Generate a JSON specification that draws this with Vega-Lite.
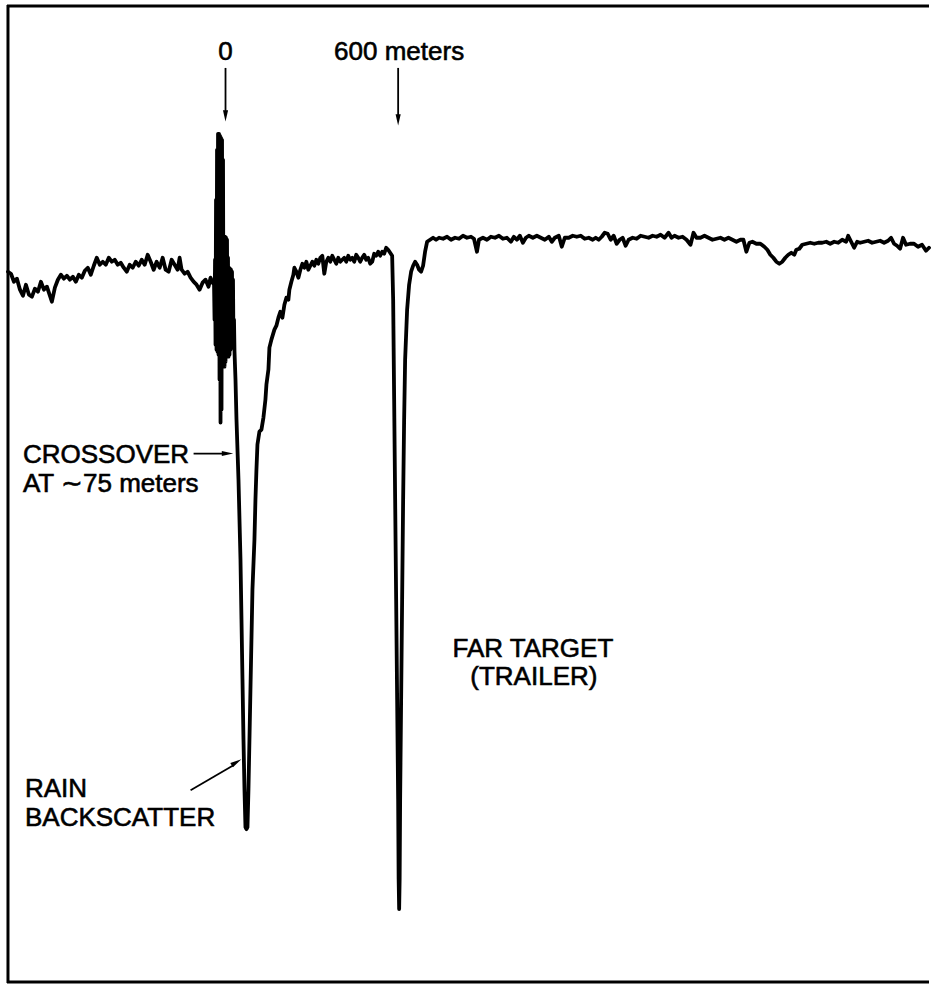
{
  "$schema": "https://vega.github.io/schema/vega-lite/v6.json",
  "width": 931,
  "height": 985,
  "autosize": {"type": "fit", "contains": "padding"},
  "padding": 0,
  "background": "white",
  "view": {"stroke": null, "fill": null},
  "config": {"view": {"stroke": null}},
  "datasets": {
    "hframe": [
      {"x": 7, "y": 6, "x2": 931},
      {"x": 7, "y": 983, "x2": 931}
    ],
    "vframe": [
      {"x": 8, "y": 5, "y2": 984}
    ],
    "trace": [
      {"x":8,"y":272},{"x":11,"y":274},{"x":14,"y":282},{"x":17,"y":279},{"x":20,"y":290},{"x":23,"y":296},{"x":26,"y":285},{"x":29,"y":295},{"x":32,"y":297},{"x":35,"y":289},{"x":38,"y":292},{"x":41,"y":282},{"x":44,"y":290},{"x":47,"y":287},{"x":50,"y":296},{"x":52,"y":302},{"x":55,"y":288},{"x":58,"y":280},{"x":61,"y":275},{"x":64,"y":279},{"x":67,"y":276},{"x":70,"y":280},{"x":73,"y":277},{"x":76,"y":282},{"x":79,"y":275},{"x":82,"y":278},{"x":85,"y":271},{"x":88,"y":268},{"x":91,"y":275},{"x":94,"y":266},{"x":97,"y":258},{"x":100,"y":265},{"x":103,"y":262},{"x":106,"y":265},{"x":109,"y":258},{"x":112,"y":262},{"x":115,"y":260},{"x":118,"y":265},{"x":121,"y":263},{"x":124,"y":268},{"x":127,"y":272},{"x":130,"y":265},{"x":133,"y":268},{"x":136,"y":262},{"x":139,"y":266},{"x":142,"y":260},{"x":145,"y":265},{"x":148,"y":255},{"x":151,"y":262},{"x":154,"y":270},{"x":157,"y":262},{"x":160,"y":268},{"x":163,"y":258},{"x":166,"y":270},{"x":169,"y":272},{"x":172,"y":260},{"x":175,"y":265},{"x":178,"y":270},{"x":180,"y":258},{"x":182,"y":270},{"x":185,"y":274},{"x":188,"y":272},{"x":191,"y":278},{"x":194,"y":282},{"x":197,"y":285},{"x":200,"y":290},{"x":203,"y":283},{"x":206,"y":280},{"x":209,"y":287},{"x":211,"y":278},{"x":213,"y":283},{"x":214.5,"y":285},
      {"x":215,"y":320},{"x":215.5,"y":260},{"x":216,"y":345},{"x":216.5,"y":200},{"x":217,"y":350},{"x":217.5,"y":150},{"x":218,"y":352},{"x":218.5,"y":134},{"x":219,"y":355},{"x":219.5,"y":134},{"x":220,"y":380},{"x":220.5,"y":136},{"x":221,"y":423},{"x":221.5,"y":138},{"x":222,"y":410},{"x":222.5,"y":140},{"x":223,"y":356},{"x":223.5,"y":160},{"x":224,"y":360},{"x":224.5,"y":237},{"x":225,"y":367},{"x":225.5,"y":237},{"x":226,"y":362},{"x":226.5,"y":238},{"x":227,"y":352},{"x":227.5,"y":240},{"x":228,"y":352},{"x":228.5,"y":258},{"x":229,"y":357},{"x":229.5,"y":268},{"x":230,"y":355},{"x":230.5,"y":269},{"x":231,"y":350},{"x":231.5,"y":270},{"x":232,"y":348},{"x":232.5,"y":272},{"x":233,"y":347},{"x":233.5,"y":280},{"x":234,"y":348},{"x":234.5,"y":320},{"x":235,"y":352},
      {"x":236,"y":380},{"x":237,"y":420},{"x":239,"y":480},{"x":241,"y":560},{"x":242,"y":620},{"x":243,"y":680},{"x":244,"y":740},{"x":245,"y":790},{"x":246,"y":828},{"x":247,"y":830},
      {"x":248,"y":828},{"x":249,"y":790},{"x":250,"y":740},{"x":251,"y":690},{"x":252,"y":640},{"x":253,"y":590},{"x":255,"y":540},{"x":256,"y":500},{"x":257,"y":470},{"x":258,"y":445},{"x":260,"y":432},{"x":262,"y":430},{"x":263,"y":424},{"x":264,"y":418},{"x":266,"y":400},{"x":267,"y":385},{"x":269,"y":370},{"x":270,"y":348},{"x":272,"y":340},{"x":275,"y":330},{"x":277,"y":326},{"x":279,"y":318},{"x":281,"y":312},{"x":283,"y":318},{"x":285,"y":305},{"x":287,"y":298},{"x":289,"y":300},{"x":290,"y":290},{"x":292,"y":282},{"x":294,"y":275},{"x":295,"y":268},{"x":297,"y":272},{"x":299,"y":278},{"x":301,"y":270},{"x":303,"y":264},{"x":305,"y":268},{"x":307,"y":262},{"x":309,"y":270},{"x":311,"y":266},{"x":313,"y":262},{"x":315,"y":266},{"x":317,"y":260},{"x":319,"y":264},{"x":321,"y":258},{"x":323,"y":256},{"x":325,"y":274},{"x":327,"y":262},{"x":329,"y":258},{"x":331,"y":262},{"x":333,"y":256},{"x":335,"y":260},{"x":337,"y":264},{"x":339,"y":258},{"x":341,"y":262},{"x":343,"y":260},{"x":345,"y":258},{"x":347,"y":262},{"x":349,"y":256},{"x":351,"y":260},{"x":353,"y":258},{"x":355,"y":262},{"x":357,"y":255},{"x":359,"y":258},{"x":361,"y":262},{"x":363,"y":258},{"x":365,"y":255},{"x":367,"y":260},{"x":369,"y":258},{"x":371,"y":264},{"x":373,"y":262},{"x":375,"y":254},{"x":377,"y":256},{"x":379,"y":252},{"x":381,"y":256},{"x":383,"y":252},{"x":385,"y":254},{"x":387,"y":248},{"x":389,"y":250},{"x":391,"y":253},{"x":393,"y":256},
      {"x":394,"y":300},{"x":395,"y":400},{"x":396,"y":500},{"x":397,"y":600},{"x":398,"y":700},{"x":399,"y":800},{"x":399.5,"y":880},{"x":400,"y":910},{"x":400.5,"y":880},{"x":401,"y":800},{"x":402,"y":700},{"x":403,"y":600},{"x":404,"y":500},{"x":405,"y":420},{"x":406,"y":360},{"x":408,"y":310},{"x":410,"y":285},{"x":412,"y":272},{"x":414,"y":266},{"x":416,"y":262},{"x":418,"y":265},{"x":420,"y":270},{"x":422,"y":272},{"x":424,"y":266},{"x":426,"y":252},{"x":428,"y":242},{"x":431,"y":240},{"x":434,"y":238},
      {"x":437,"y":240},{"x":440,"y":238},{"x":444,"y":239},{"x":448,"y":237},{"x":452,"y":240},{"x":456,"y":238},{"x":460,"y":239},{"x":464,"y":236},{"x":468,"y":238},{"x":472,"y":237},{"x":475,"y":239},{"x":478,"y":252},{"x":480,"y":240},{"x":484,"y":238},{"x":488,"y":240},{"x":492,"y":237},{"x":496,"y":238},{"x":500,"y":236},{"x":504,"y":239},{"x":508,"y":238},{"x":512,"y":242},{"x":515,"y":237},{"x":518,"y":240},{"x":521,"y":236},{"x":524,"y":243},{"x":527,"y":238},{"x":530,"y":236},{"x":534,"y":238},{"x":538,"y":236},{"x":542,"y":238},{"x":546,"y":240},{"x":550,"y":237},{"x":553,"y":242},{"x":556,"y":238},{"x":560,"y":236},{"x":563,"y":247},{"x":566,"y":238},{"x":570,"y":238},{"x":574,"y":236},{"x":578,"y":237},{"x":582,"y":236},{"x":586,"y":239},{"x":590,"y":238},{"x":594,"y":240},{"x":597,"y":238},{"x":600,"y":240},{"x":603,"y":237},{"x":606,"y":233},{"x":609,"y":234},{"x":612,"y":240},{"x":615,"y":236},{"x":618,"y":244},{"x":621,"y":240},{"x":624,"y":238},{"x":627,"y":246},{"x":630,"y":240},{"x":634,"y":238},{"x":638,"y":239},{"x":642,"y":236},{"x":646,"y":237},{"x":650,"y":238},{"x":654,"y":236},{"x":658,"y":237},{"x":662,"y":235},{"x":666,"y":238},{"x":670,"y":233},{"x":673,"y":238},{"x":676,"y":236},{"x":680,"y":238},{"x":684,"y":237},{"x":688,"y":240},{"x":692,"y":245},{"x":695,"y":233},{"x":698,"y":238},{"x":702,"y":238},{"x":706,"y":236},{"x":710,"y":238},{"x":714,"y":240},{"x":718,"y":239},{"x":722,"y":238},{"x":726,"y":240},{"x":730,"y":238},{"x":734,"y":240},{"x":738,"y":242},{"x":742,"y":240},{"x":745,"y":240},{"x":748,"y":252},{"x":751,"y":243},{"x":754,"y":242},{"x":758,"y":244},{"x":762,"y":244},{"x":766,"y":247},{"x":769,"y":250},{"x":772,"y":255},{"x":775,"y":258},{"x":778,"y":262},{"x":781,"y":264},{"x":784,"y":262},{"x":787,"y":258},{"x":790,"y":255},{"x":793,"y":253},{"x":796,"y":255},{"x":798,"y":250},{"x":801,"y":249},{"x":804,"y":245},{"x":808,"y":244},{"x":812,"y":243},{"x":816,"y":244},{"x":820,"y":243},{"x":824,"y":243},{"x":828,"y":242},{"x":832,"y":244},{"x":836,"y":242},{"x":840,"y":243},{"x":844,"y":240},{"x":848,"y":242},{"x":850,"y":236},{"x":853,"y":242},{"x":856,"y":248},{"x":859,"y":242},{"x":862,"y":243},{"x":866,"y":242},{"x":870,"y":241},{"x":874,"y":243},{"x":878,"y":242},{"x":882,"y":241},{"x":886,"y":243},{"x":890,"y":241},{"x":893,"y":238},{"x":896,"y":244},{"x":899,"y":246},{"x":902,"y":249},{"x":905,"y":238},{"x":908,"y":245},{"x":912,"y":244},{"x":916,"y":244},{"x":920,"y":247},{"x":924,"y":245},{"x":928,"y":251},{"x":931,"y":248}
    ],
    "shafts": [
      {"x": 226, "y": 68, "x2": 226, "y2": 114},
      {"x": 399, "y": 68, "x2": 399, "y2": 118},
      {"x": 194, "y": 454, "x2": 226, "y2": 454},
      {"x": 191, "y": 791, "x2": 234, "y2": 766}
    ],
    "heads": [
      {"x": 226, "y": 116, "angle": 180},
      {"x": 399, "y": 120, "angle": 180},
      {"x": 228, "y": 454, "angle": 90},
      {"x": 237, "y": 763, "angle": 59}
    ],
    "leftLabels": [
      {"x": 23, "y": 463, "text": "CROSSOVER"},
      {"x": 23, "y": 492, "text": "AT ∼75 meters"},
      {"x": 25, "y": 798, "text": "RAIN"},
      {"x": 25, "y": 827, "text": "BACKSCATTER"}
    ],
    "centerLabels": [
      {"x": 226, "y": 60, "text": "0"},
      {"x": 400, "y": 60, "text": "600 meters"},
      {"x": 534, "y": 658, "text": "FAR TARGET"},
      {"x": 535, "y": 686, "text": "(TRAILER)"}
    ]
  },
  "layer": [
    {
      "data": {"name": "hframe"},
      "mark": {"type": "rule", "stroke": "black", "strokeWidth": 3},
      "encoding": {
        "x": {"field": "x", "type": "quantitative", "scale": {"domain": [0, 931], "nice": false, "zero": false}, "axis": null},
        "y": {"field": "y", "type": "quantitative", "scale": {"domain": [0, 985], "nice": false, "zero": false, "reverse": true}, "axis": null},
        "x2": {"field": "x2"}
      }
    },
    {
      "data": {"name": "vframe"},
      "mark": {"type": "rule", "stroke": "black", "strokeWidth": 3},
      "encoding": {
        "x": {"field": "x", "type": "quantitative"},
        "y": {"field": "y", "type": "quantitative"},
        "y2": {"field": "y2"}
      }
    },
    {
      "data": {"name": "trace"},
      "mark": {"type": "line", "stroke": "black", "strokeWidth": 3.8, "strokeJoin": "round", "strokeCap": "round"},
      "encoding": {
        "x": {"field": "x", "type": "quantitative"},
        "y": {"field": "y", "type": "quantitative"},
        "order": {"value": null}
      }
    },
    {
      "data": {"name": "shafts"},
      "mark": {"type": "rule", "stroke": "black", "strokeWidth": 1.8},
      "encoding": {
        "x": {"field": "x", "type": "quantitative"},
        "y": {"field": "y", "type": "quantitative"},
        "x2": {"field": "x2"},
        "y2": {"field": "y2"}
      }
    },
    {
      "data": {"name": "heads"},
      "mark": {"type": "point", "shape": "M0,-1L0.45,1L-0.45,1Z", "filled": true, "fill": "black", "stroke": null, "opacity": 1, "size": 130},
      "encoding": {
        "x": {"field": "x", "type": "quantitative"},
        "y": {"field": "y", "type": "quantitative"},
        "angle": {"field": "angle", "type": "quantitative", "scale": null}
      }
    },
    {
      "data": {"name": "leftLabels"},
      "mark": {"type": "text", "align": "left", "baseline": "alphabetic", "font": "Liberation Sans", "fontSize": 26, "fill": "black", "stroke": "black", "strokeWidth": 0.6},
      "encoding": {
        "x": {"field": "x", "type": "quantitative"},
        "y": {"field": "y", "type": "quantitative"},
        "text": {"field": "text"}
      }
    },
    {
      "data": {"name": "centerLabels"},
      "mark": {"type": "text", "align": "center", "baseline": "alphabetic", "font": "Liberation Sans", "fontSize": 26, "fill": "black", "stroke": "black", "strokeWidth": 0.6},
      "encoding": {
        "x": {"field": "x", "type": "quantitative"},
        "y": {"field": "y", "type": "quantitative"},
        "text": {"field": "text"}
      }
    }
  ]
}
